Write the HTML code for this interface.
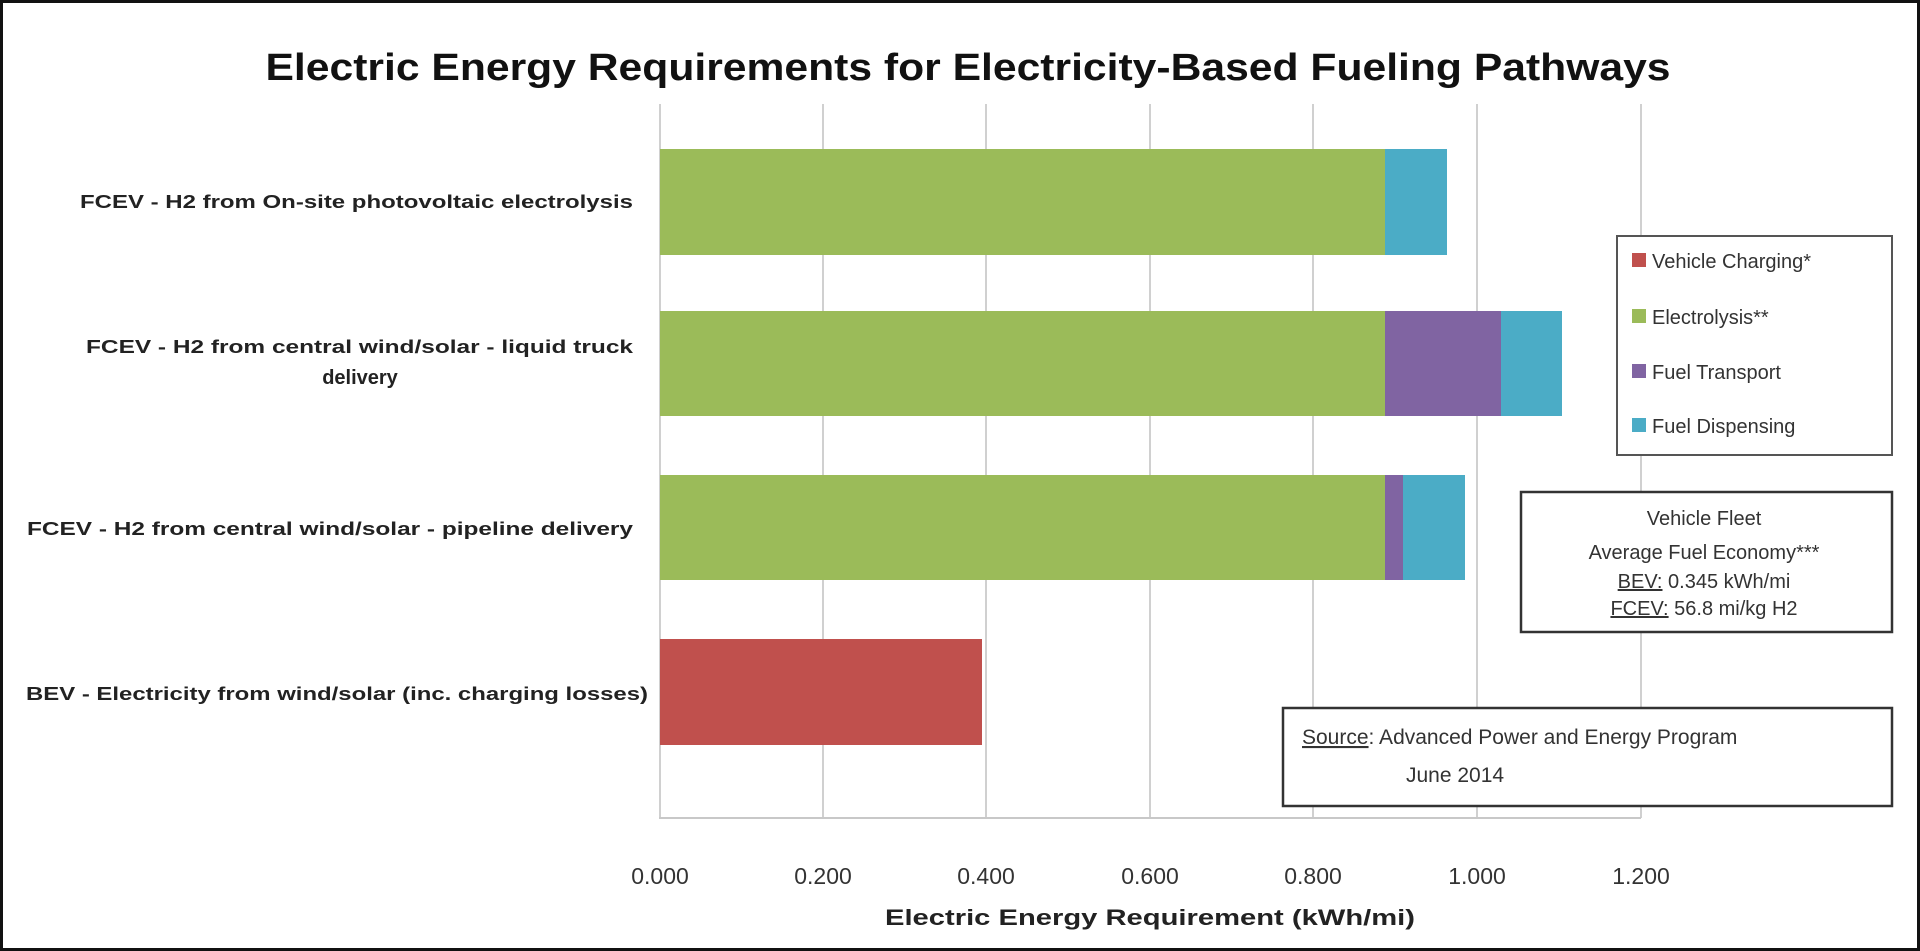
<!DOCTYPE html>
<html><head><meta charset="utf-8"><style>
html,body{margin:0;padding:0;background:#fff;}
svg{display:block;font-family:"Liberation Sans",sans-serif;}
</style></head><body>
<svg width="1920" height="951" viewBox="0 0 1920 951" xmlns="http://www.w3.org/2000/svg">
<rect x="1.5" y="1.5" width="1917" height="948" fill="#fff" stroke="#111" stroke-width="3"/>
<text x="968" y="80" text-anchor="middle" font-size="38" font-weight="bold" fill="#111" textLength="1405" lengthAdjust="spacingAndGlyphs">Electric Energy Requirements for Electricity-Based Fueling Pathways</text>
<g stroke="#d0d0d0" stroke-width="2">
<line x1="660" y1="104" x2="660" y2="818"/>
<line x1="823" y1="104" x2="823" y2="818"/>
<line x1="986" y1="104" x2="986" y2="818"/>
<line x1="1150" y1="104" x2="1150" y2="818"/>
<line x1="1313" y1="104" x2="1313" y2="818"/>
<line x1="1477" y1="104" x2="1477" y2="818"/>
<line x1="1641" y1="104" x2="1641" y2="818"/>
<line x1="659" y1="818" x2="1641" y2="818" stroke="#c8c8c8"/>
</g>
<rect x="660" y="149" width="725" height="106" fill="#9BBB59"/>
<rect x="1385" y="149" width="62" height="106" fill="#4BACC6"/>
<rect x="660" y="311" width="725" height="105" fill="#9BBB59"/>
<rect x="1385" y="311" width="116" height="105" fill="#8064A2"/>
<rect x="1501" y="311" width="61" height="105" fill="#4BACC6"/>
<rect x="660" y="475" width="725" height="105" fill="#9BBB59"/>
<rect x="1385" y="475" width="18" height="105" fill="#8064A2"/>
<rect x="1403" y="475" width="62" height="105" fill="#4BACC6"/>
<rect x="660" y="639" width="322" height="106" fill="#C0504D"/>
<g font-size="18" font-weight="bold" fill="#222" text-anchor="end">
<text x="633" y="208" textLength="553" lengthAdjust="spacingAndGlyphs">FCEV - H2 from On-site photovoltaic electrolysis</text>
<text x="633" y="353" textLength="547" lengthAdjust="spacingAndGlyphs">FCEV - H2 from central wind/solar - liquid truck</text>
<text x="360" y="384" text-anchor="middle" font-size="20">delivery</text>
<text x="633" y="535" textLength="606" lengthAdjust="spacingAndGlyphs">FCEV - H2 from central wind/solar - pipeline delivery</text>
<text x="648" y="700" textLength="622" lengthAdjust="spacingAndGlyphs">BEV - Electricity from wind/solar (inc. charging losses)</text>
</g>
<g font-size="23" fill="#333" text-anchor="middle">
<text x="660" y="884">0.000</text>
<text x="823" y="884">0.200</text>
<text x="986" y="884">0.400</text>
<text x="1150" y="884">0.600</text>
<text x="1313" y="884">0.800</text>
<text x="1477" y="884">1.000</text>
<text x="1641" y="884">1.200</text>
</g>
<text x="1150" y="925" text-anchor="middle" font-size="22" font-weight="bold" fill="#222" textLength="530" lengthAdjust="spacingAndGlyphs">Electric Energy Requirement (kWh/mi)</text>
<rect x="1617" y="236" width="275" height="219" fill="#fff" stroke="#555" stroke-width="2"/>
<g font-size="20" fill="#333">
<rect x="1632" y="253" width="14" height="14" fill="#C0504D"/><text x="1652" y="268">Vehicle Charging*</text>
<rect x="1632" y="309" width="14" height="14" fill="#9BBB59"/><text x="1652" y="324">Electrolysis**</text>
<rect x="1632" y="364" width="14" height="14" fill="#8064A2"/><text x="1652" y="379">Fuel Transport</text>
<rect x="1632" y="418" width="14" height="14" fill="#4BACC6"/><text x="1652" y="433">Fuel Dispensing</text>
</g>
<rect x="1521" y="492" width="371" height="140" fill="#fff" stroke="#333" stroke-width="2.5"/>
<g font-size="20" fill="#333" text-anchor="middle">
<text x="1704" y="525">Vehicle Fleet</text>
<text x="1704" y="559">Average Fuel Economy***</text>
<text x="1704" y="588"><tspan text-decoration="underline">BEV:</tspan> 0.345 kWh/mi</text>
<text x="1704" y="615"><tspan text-decoration="underline">FCEV:</tspan> 56.8 mi/kg H2</text>
</g>
<rect x="1283" y="708" width="609" height="98" fill="#fff" stroke="#333" stroke-width="2.5"/>
<g font-size="21" fill="#333">
<text x="1302" y="744"><tspan text-decoration="underline">Source</tspan>: Advanced Power and Energy Program</text>
<text x="1406" y="782">June 2014</text>
</g>
</svg>
</body></html>
